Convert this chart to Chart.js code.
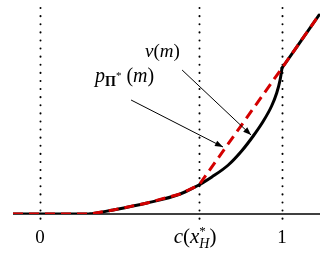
<!DOCTYPE html>
<html>
<head>
<meta charset="utf-8">
<script src="https://cdn.jsdelivr.net/npm/chart.js@4"></script>
<style>
html, body { margin: 0; padding: 0; background: #fff; }
#wrap { width: 326px; height: 261px; }
</style>
</head>
<body>
<div id="wrap"><canvas id="chart"></canvas></div>
<script>
// x positions of the marked values
const cStar = 0.657
const tickValues = [0, cStar, 1]

// flat part, both curves
const flatX = [-0.112, 0.207]
const flatY = [0, 0]

// rising part up to c(x_H*), both curves
const riseX = [0.207, 0.302, 0.442, 0.579, 0.657]
const riseY = [0, 0.04, 0.11, 0.20, 0.29]

// nu(m) between c(x_H*) and 1, convex
const nuX = [0.657, 0.710, 0.778, 0.833, 0.881, 0.923, 0.957, 0.978, 0.992, 1.0]
const nuY = [0.29, 0.37, 0.49, 0.63, 0.78, 0.93, 1.08, 1.21, 1.34, 1.46]

// p_Pi*(m) between c(x_H*) and 1, straight
const pX = [0.657, 1.0]
const pY = [0.29, 1.46]

// both curves after 1
const tailX = [1.0, 1.153]
const tailY = [1.46, 1.99]

// annotation arrows [x0, y0, x1, y1] in data units
const nuArrow = [0.587, 1.44, 0.872, 0.79]
const pArrow = [0.376, 1.14, 0.756, 0.67]
const nuLabelAt = [0.434, 1.57]
const pLabelAt = [0.227, 1.32]

function pts(xs, ys) {
    return xs.map((x, i) => ({ x: x, y: ys[i] }))
}

function black(data) {
    return {
        data: data,
        borderColor: '#000',
        borderWidth: 3,
        pointRadius: 0,
        cubicInterpolationMode: 'monotone',
        borderCapStyle: 'round'
    }
}

const redData = pts(flatX, flatY)
    .concat(pts(riseX, riseY).slice(1))
    .concat(pts(pX, pY).slice(1))
    .concat(pts(tailX, tailY).slice(1))

const serif = '"Liberation Serif", "DejaVu Serif", serif'

// draws a list of pieces [text, size, italic, bold, dy, stack]
function drawPieces(ctx, pieces, x, y, align) {
    let total = 0
    let widths = []
    pieces.forEach(p => {
        ctx.font = (p[2] ? 'italic ' : '') + (p[3] ? 'bold ' : '') + p[1] + 'px ' + serif
        let w = p[5] === 'stack' ? 0 : ctx.measureText(p[0]).width
        widths.push(w)
        total += w
    })
    let cx = align === 'center' ? x - total / 2 : x
    pieces.forEach((p, i) => {
        ctx.font = (p[2] ? 'italic ' : '') + (p[3] ? 'bold ' : '') + p[1] + 'px ' + serif
        ctx.fillText(p[0], cx, y + (p[4] || 0))
        cx += widths[i]
    })
}

function arrow(ctx, x0, y0, x1, y1) {
    ctx.beginPath()
    ctx.moveTo(x0, y0)
    ctx.lineTo(x1, y1)
    ctx.lineWidth = 1
    ctx.strokeStyle = '#000'
    ctx.stroke()
    let a = Math.atan2(y1 - y0, x1 - x0)
    let len = 8, half = 3
    ctx.beginPath()
    ctx.moveTo(x1, y1)
    ctx.lineTo(x1 - len * Math.cos(a) + half * Math.sin(a), y1 - len * Math.sin(a) - half * Math.cos(a))
    ctx.lineTo(x1 - len * Math.cos(a) - half * Math.sin(a), y1 - len * Math.sin(a) + half * Math.cos(a))
    ctx.closePath()
    ctx.fillStyle = '#000'
    ctx.fill()
}

const decor = {
    id: 'decor',
    beforeDatasetsDraw(chart) {
        const ctx = chart.ctx
        const xs = chart.scales.x, ys = chart.scales.y
        const area = chart.chartArea
        ctx.save()
        // dotted verticals
        ctx.setLineDash([0.1, 8])
        ctx.lineCap = 'round'
        ctx.lineWidth = 2
        ctx.strokeStyle = '#000'
        tickValues.forEach(v => {
            let px = Math.round(xs.getPixelForValue(v)) + 0.5
            ctx.beginPath()
            ctx.moveTo(px, area.top)
            ctx.lineTo(px, area.bottom + 5)
            ctx.stroke()
        })
        ctx.setLineDash([])
        ctx.lineCap = 'butt'
        // baseline
        let by = ys.getPixelForValue(0)
        ctx.beginPath()
        ctx.moveTo(area.left, by)
        ctx.lineTo(area.right, by)
        ctx.lineWidth = 1.5
        ctx.stroke()
        ctx.restore()
    },
    afterDatasetsDraw(chart) {
        const ctx = chart.ctx
        const xs = chart.scales.x, ys = chart.scales.y
        const area = chart.chartArea
        ctx.save()
        ctx.fillStyle = '#000'
        ctx.textBaseline = 'alphabetic'
        arrow(ctx, xs.getPixelForValue(nuArrow[0]), ys.getPixelForValue(nuArrow[1]),
            xs.getPixelForValue(nuArrow[2]), ys.getPixelForValue(nuArrow[3]))
        arrow(ctx, xs.getPixelForValue(pArrow[0]), ys.getPixelForValue(pArrow[1]),
            xs.getPixelForValue(pArrow[2]), ys.getPixelForValue(pArrow[3]))

        drawPieces(ctx, [['\u03BD', 19, true], ['(', 19], ['m', 19, true], [')', 19]],
            xs.getPixelForValue(nuLabelAt[0]), ys.getPixelForValue(nuLabelAt[1]), 'left')
        drawPieces(ctx, [['p', 20, true], ['\u03A0', 14, false, true, 4], ['*', 11, false, false, -3], [' (', 20], ['m', 20, true], [')', 20]],
            xs.getPixelForValue(pLabelAt[0]), ys.getPixelForValue(pLabelAt[1]), 'left')

        // tick labels
        let ty = area.bottom + 29
        drawPieces(ctx, [['0', 19]], xs.getPixelForValue(0), ty, 'center')
        drawPieces(ctx, [['1', 19]], xs.getPixelForValue(1), ty, 'center')
        drawPieces(ctx, [['c', 21, true], ['(', 21], ['x', 21, true], ['*', 13, false, false, -8, 'stack'], ['H', 14, true, false, 5], [')', 21]],
            xs.getPixelForValue(cStar) - 4, ty, 'center')
        ctx.restore()
    }
}

new Chart(document.getElementById('chart'), {
    type: 'line',
    data: {
        // first dataset is drawn on top
        datasets: [
            {
                data: redData,
                borderColor: '#d40000',
                borderWidth: 3,
                borderDash: [10, 6],
                pointRadius: 0,
                tension: 0
            },
            black(pts(flatX, flatY)),
            black(pts(riseX, riseY)),
            black(pts(nuX, nuY)),
            black(pts(tailX, tailY))
        ]
    },
    options: {
        responsive: true,
        maintainAspectRatio: false,
        animation: false,
        layout: { padding: { left: 13, right: 6, top: 8, bottom: 47 } },
        plugins: { legend: { display: false }, tooltip: { enabled: false } },
        scales: {
            x: { type: 'linear', min: -0.112, max: 1.157, display: false },
            y: { type: 'linear', min: 0, max: 2.06, display: false }
        }
    },
    plugins: [decor]
});
</script>
</body>
</html>
